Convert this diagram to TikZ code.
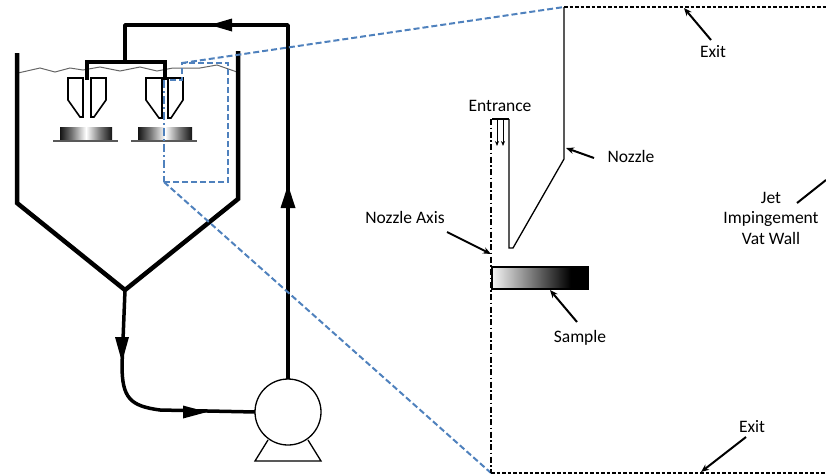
\documentclass[tikz,border=0pt]{standalone}
\usepackage{fontspec}
\setmainfont{Carlito}
\usetikzlibrary{arrows.meta}
\definecolor{zoomblue}{RGB}{79,129,189}
% shadings are fitted to the path over their middle 50bp (25bp..75bp)
\pgfdeclarehorizontalshading{diskshade}{100bp}{color(0bp)=(black!92); color(25bp)=(black!92); color(36bp)=(black!55); color(50bp)=(white); color(64bp)=(black!55); color(75bp)=(black!92); color(100bp)=(black!92)}
\pgfdeclarehorizontalshading{sampleshade}{100bp}{color(0bp)=(black!4); color(25bp)=(black!4); color(66bp)=(black); color(100bp)=(black)}
\tikzset{
  wall/.style={line width=4.5pt, line join=miter},
  pipe/.style={line width=3.5pt, line join=round},
  flowtip/.style={fill=black},
  nozzlehalf/.style={draw, fill=white, line width=1.6pt, line join=miter},
  disk/.style={shading=diskshade},
  plate/.style={line width=1.6pt, black!65},
  zoomline/.style={draw=zoomblue, line width=2pt, dash pattern=on 6pt off 3pt},
  zoomaxis/.style={draw=zoomblue, line width=2pt, dash pattern=on 8pt off 3pt on 2pt off 3pt},
  thinline/.style={line width=1.3pt},
  exitline/.style={line width=1.3pt, dash pattern=on 3.5pt off 2pt},
  axisline/.style={line width=1.3pt, dash pattern=on 6pt off 2.5pt on 1.5pt off 2.5pt},
  callout/.style={line width=2pt, -{Stealth[length=8pt,width=6.5pt]}},
  inflow/.style={line width=1pt, -{Stealth[length=5pt,width=4pt]}},
  lbl/.style={font=\fontsize{17.5}{20.5}\selectfont, inner sep=0pt, anchor=base},
}
\begin{document}
\begin{tikzpicture}[x=1pt,y=-1pt]
\useasboundingbox (0,0) rectangle (826,475);

% ---------------- vat ----------------
% liquid surface
\draw[line width=1pt, black!60]
  (18,73) -- (40,68) -- (55,72) -- (70,68) -- (83,70) -- (100,67) -- (120,71)
  -- (140,67) -- (157,71) -- (173,68) -- (200,68) -- (217,65) -- (237,72);
% walls and conical bottom
\coordinate (apex) at (125,290);
\draw[wall] (17,53) -- (17,203) -- (apex) -- (238,199) -- (238,51);

% ---------------- circulation loop ----------------
\coordinate (pumpC) at (288,412);
\coordinate (riserTop) at (288,25);
\coordinate (dropTop) at (125,25);
\coordinate (manifold) at (125,62);
\draw[pipe] (apex) -- (122,365) .. controls (122,398) and (130,406) .. (160,410) -- (256,412);
\draw[pipe] (pumpC) -- (riserTop) -- (dropTop) -- (manifold);
\draw[line width=4.5pt, line cap=rect] (87,62) -- (165,62);
\draw[line width=4.5pt] (87,62) -- (87,80);
\draw[line width=4.5pt] (165,62) -- (165,80);
% flow direction tips
\fill[flowtip] (122,362) -- (115,337) -- (129,337) -- cycle;
\fill[flowtip] (207,412) -- (183,405.5) -- (183,418.5) -- cycle;
\fill[flowtip] (288,185) -- (280.5,208) -- (295.5,208) -- cycle;
\fill[flowtip] (210,25) -- (232,18.5) -- (232,31.5) -- cycle;

% pump
\draw[thinline] (268,440) -- (255,461) -- (321,461) -- (308,440);
\node[draw, circle, fill=white, line width=1.3pt, minimum size=66pt, inner sep=0pt] (pump) at (pumpC) {};

% ---------------- nozzles ----------------
\draw[nozzlehalf] (68,78) -- (83,78) -- (83,117) -- (80,117) -- (68,100) -- cycle;
\draw[nozzlehalf] (91,78) -- (106,78) -- (106,100) -- (94,117) -- (91,117) -- cycle;
\draw[nozzlehalf] (146,78) -- (162,78) -- (162,118) -- (159,118) -- (146,100) -- cycle;
\draw[nozzlehalf] (168,78) -- (183,78) -- (183,100) -- (171,118) -- (168,118) -- cycle;

% samples on their plates
\fill[disk] (60,127) rectangle (112,139);
\draw[plate] (53,141) -- (118,141);
\fill[disk] (138,127) rectangle (192,139);
\draw[plate] (131,141) -- (197,141);

% ---------------- enlarged region ----------------
\coordinate (zA) at (182,63);
\coordinate (zB) at (164,182);
\draw[zoomline] (170,80) -- (182,80) -- (zA) -- (228,63) -- (228,182) -- (zB);
\draw[zoomaxis] (164,80) -- (zB);

% ---------------- detail view ----------------
\coordinate (dTL) at (564,7);
\coordinate (dBL) at (491,473);
\draw[zoomline] (zA) -- (dTL);
\draw[zoomline] (zB) -- (dBL);

\draw[exitline] (dTL) -- (826,7);
\draw[exitline] (dBL) -- (826,473);
\draw[axisline] (491,119) -- (dBL);

% nozzle wall
\coordinate (nozTip) at (513,248);
\coordinate (nozKnee) at (564,159);
\draw[thinline] (509,119) -- (509,248) -- (nozTip) -- (nozKnee) -- (dTL);
% entrance
\draw[thinline] (492,119) -- (509,119);
\draw[inflow] (497,119) -- (497,146);
\draw[inflow] (503,119) -- (503,146);

% sample
\draw[shading=sampleshade, line width=1.2pt] (492,267) rectangle (588,289);

% labels
\node[lbl] (entrance) at (500,111) {Entrance};
\node[lbl] (exitTop) at (713,57) {Exit};
\node[lbl] (nozzle) at (631,162) {Nozzle};
\node[lbl, anchor=center, align=center] (vatwall) at (771,218) {Jet\\Impingement\\Vat Wall};
\node[lbl] (axis) at (405,223) {Nozzle Axis};
\node[lbl] (sample) at (580,342) {Sample};
\node[lbl] (exitBot) at (752,432) {Exit};

% callouts
\coordinate (cExitT) at (711,40);   \coordinate (hExitT) at (684,8);
\coordinate (cNoz) at (594,158);    \coordinate (hNoz) at (566,148);
\coordinate (cAxis) at (447,232);   \coordinate (hAxis) at (491,254);
\coordinate (cSamp) at (577,322);   \coordinate (hSamp) at (550,290);
\coordinate (cExitB) at (746,437);  \coordinate (hExitB) at (701,472);
\coordinate (cWall) at (797,203);   \coordinate (hWall) at (826,180);
\draw[callout] (cExitT) -- (hExitT);
\draw[callout] (cNoz) -- (hNoz);
\draw[callout] (cAxis) -- (hAxis);
\draw[callout] (cSamp) -- (hSamp);
\draw[callout] (cExitB) -- (hExitB);
\draw[line width=2pt] (cWall) -- (hWall);
\end{tikzpicture}
\end{document}
